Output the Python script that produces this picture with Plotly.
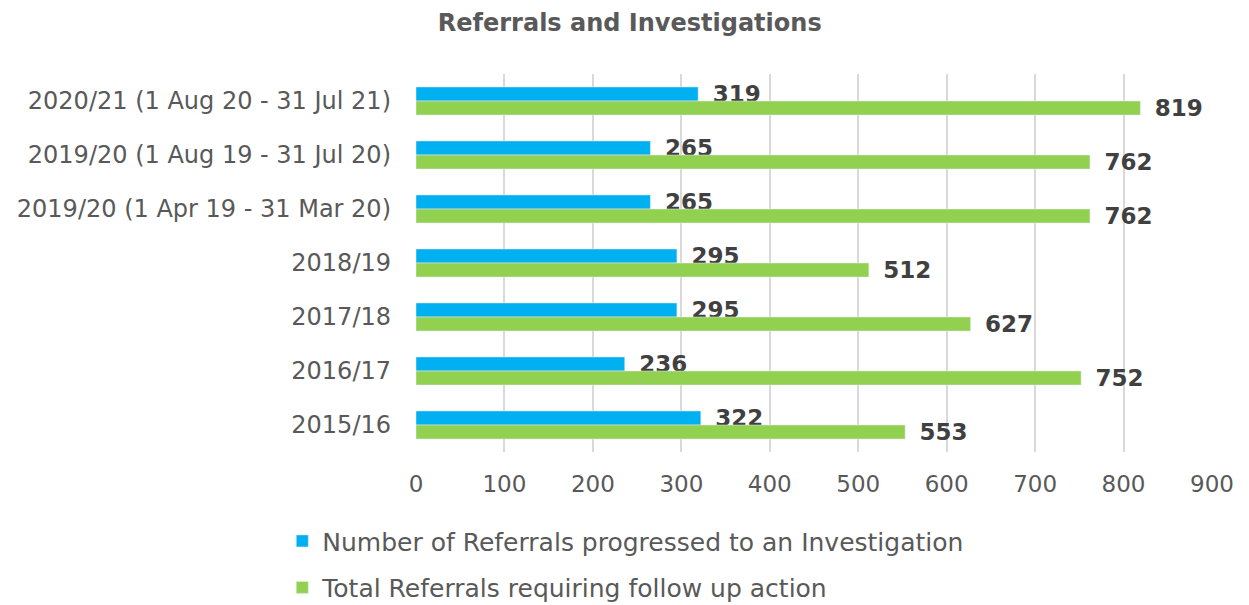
import plotly.graph_objects as go

categories = [
    "2020/21 (1 Aug 20 - 31 Jul 21)",
    "2019/20 (1 Aug 19 - 31 Jul 20)",
    "2019/20 (1 Apr 19 - 31 Mar 20)",
    "2018/19",
    "2017/18",
    "2016/17",
    "2015/16",
]
investigations = [319, 265, 265, 295, 295, 236, 322]
total_referrals = [819, 762, 762, 512, 627, 752, 553]
series_names = [
    "Number of Referrals progressed to an Investigation",
    "Total Referrals requiring follow up action",
]
x_ticks = [0, 100, 200, 300, 400, 500, 600, 700, 800, 900]

FONT = "DejaVu Sans"
TXT = "#595959"
LBL = "#404040"

fig = go.Figure()
fig.add_trace(go.Bar(
    y=categories, x=investigations, orientation="h", name=series_names[0],
    marker=dict(color="#00B0F0"), legendgroup="a",
    text=investigations, texttemplate="\u2002%{x}", textposition="outside",
    constraintext="none",
    textfont=dict(family=FONT, size=23, color=LBL, weight="bold"),
    cliponaxis=False,
))
fig.add_trace(go.Bar(
    y=categories, x=total_referrals, orientation="h", name=series_names[1],
    marker=dict(color="#92D050"), legendgroup="b",
    text=total_referrals, texttemplate="\u2002%{x}", textposition="outside",
    constraintext="none",
    textfont=dict(family=FONT, size=23, color=LBL, weight="bold"),
    cliponaxis=False,
))

fig.update_layout(
    width=1241, height=597, autosize=False,
    margin=dict(l=408, r=37, t=66, b=153, autoexpand=False),
    paper_bgcolor="white", plot_bgcolor="white",
    barmode="group", bargap=0.48, bargroupgap=0,
    title=dict(text="<b>Referrals and Investigations</b>", x=0.501, xref="container",
               xanchor="center", y=0.975, yref="container", yanchor="middle",
               font=dict(family=FONT, size=24, color=TXT)),
    font=dict(family=FONT, color=TXT),
    legend=dict(orientation="v", x=-0.168, xref="paper", xanchor="left",
                y=-0.175, yref="paper", yanchor="top",
                font=dict(family=FONT, size=25, color=TXT),
                traceorder="grouped", tracegroupgap=11,
                bgcolor="rgba(0,0,0,0)"),
)
fig.update_xaxes(range=[0, 900], tickvals=x_ticks, showgrid=True, gridcolor="#D9D9D9",
                 gridwidth=1.5, zeroline=False, showline=False, automargin=False,
                 tickfont=dict(family=FONT, size=23, color=TXT), ticklabelstandoff=16)
fig.update_yaxes(autorange="reversed", showgrid=False, showline=False, ticks="",
                 automargin=False,
                 tickfont=dict(family=FONT, size=24, color=TXT), ticklabelstandoff=24)

fig.write_html("out.html")
